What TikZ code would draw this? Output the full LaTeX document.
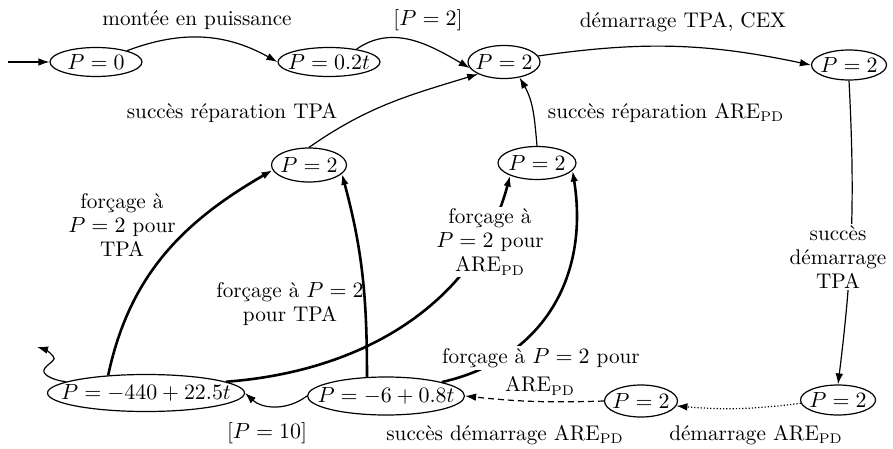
\documentclass[tikz,border=0pt]{standalone}
\usetikzlibrary{shapes.geometric,arrows.meta}
\newcommand\statetext[1]{\makebox[0pt]{#1}}
\begin{document}
\begin{tikzpicture}[x=0.5pt,y=-0.5pt,
  every node/.style={font=\fontsize{10.6}{12}\selectfont},
  state/.style 2 args={draw,ellipse,inner sep=0pt,line width=0.6pt,
    minimum width=#1pt,minimum height=#2pt},
  lbl/.style={align=center,inner sep=1pt},
  cover/.style={lbl,fill=white},
  trans/.style={-{Latex[length=5.5pt,width=3.8pt]},line width=0.6pt},
  force/.style={trans,line width=1.3pt},
]
\useasboundingbox (0,0) rectangle (893,449);

% states
\node[state={46}{14.5}]   (p0)   at (96,62)   {\statetext{$P=0$}};
\node[state={51}{14.5}]   (p02)  at (329,62)  {\statetext{$P=0.2t$}};
\node[state={36}{16.5}]   (p2t)  at (504,62)  {\statetext{$P=2$}};
\node[state={37.5}{15}]   (p2tr) at (849,65)  {\statetext{$P=2$}};
\node[state={37.5}{17}]   (p2ml) at (309,165) {\statetext{$P=2$}};
\node[state={39}{16.5}]   (p2mr) at (537,163) {\statetext{$P=2$}};
\node[state={37.5}{15}]   (p2rb) at (838,400) {\statetext{$P=2$}};
\node[state={36.5}{16}]   (p2bm) at (641,401) {\statetext{$P=2$}};
\node[state={78.5}{19}]   (p6)   at (386,396) {\statetext{$P=-6+0.8t$}};
\node[state={98.5}{18.5}] (p440) at (146,393) {\statetext{$P=-440+22.5t$}};

\coordinate (start) at (8,62);
\coordinate (exit) at (37,347);

% transitions
\draw[trans] (start) -- (p0.west);
\draw[trans] (p0.20) to[bend left=25] (p02.west);
\draw[trans] (p02.25) to[out=35,in=150] (p2t.190);
\draw[trans] (p2t.10) to[bend left=10] (p2tr.west);
\draw[trans] (p2tr.south) to[bend left=5] (p2rb.north);
\draw[trans,densely dotted] (p2rb.185) to[bend left=6] (p2bm.-8);
\draw[trans,densely dashed] (p2bm.west) to[bend left=4] (p6.east);
\draw[trans] (p6.west) to[bend left=40] (p440.east);
\draw[trans] (p440.172) .. controls (52,380) and (40,374) .. (45,368)
  .. controls (50,362) and (57,360) .. (53,356)
  .. controls (50,352) and (44,349) .. (exit);

\draw[force] (p440.155) to[out=78,in=210] (p2ml.188);
\draw[force] (p6.135) to[out=90,in=-75] (p2ml.-15);
\draw[force] (p440.8) .. controls (380,370) and (480,290) .. (p2mr.205);
\draw[force] (p6.14) .. controls (540,360) and (590,280) .. (p2mr.-12);

\draw[trans] (p2ml.north) to[out=35,in=197] (p2t.205);
\draw[trans] (p2mr.north) to[out=95,in=-60] (p2t.-45);

% labels
\node[lbl] (l1) at (197,20) {montée en puissance};
\node[lbl] (l2) at (428,20) {[$P=2$]};
\node[lbl] (l3) at (683,22) {démarrage TPA, CEX};
\node[lbl] (l4) at (232,113) {succès réparation TPA};
\node[lbl] (l5) at (666,113) {succès réparation ARE$_{\mathrm{PD}}$};
\node[cover] (l6) at (838,257) {succès\\démarrage\\TPA};
\node[lbl] (l7) at (122,225) {forçage à\\$P=2$ pour\\TPA};
\node[lbl] (l8) at (290,304) {forçage à $P=2$\\pour TPA};
\node[cover] (l9) at (490,242) {forçage à\\$P=2$ pour\\ARE$_{\mathrm{PD}}$};
\node[cover] (l10) at (541,358) {forçage à $P=2$ pour};
\node[lbl] (l10b) at (540,386) {ARE$_{\mathrm{PD}}$};
\node[lbl] (l11) at (267,433) {[$P=10$]};
\node[lbl] (l12) at (505,435) {succès démarrage ARE$_{\mathrm{PD}}$};
\node[lbl] (l13) at (756,435) {démarrage ARE$_{\mathrm{PD}}$};
\end{tikzpicture}
\end{document}
